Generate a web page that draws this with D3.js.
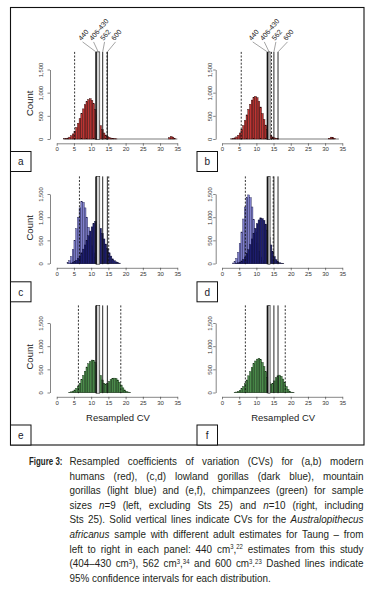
<!DOCTYPE html>
<html lang="en">
<head>
<meta charset="utf-8">
<title>Resampled CV histograms</title>
<script src="https://cdn.jsdelivr.net/npm/d3@7"></script>
<style>
    body { margin: 0; background: #fff; }
    svg text { font-family: "Liberation Sans", Arial, sans-serif; }
    .caption text { fill: #231f20; }
</style>
</head>
<body>
<script>
// ---- DATA (counts per 0.5 CV bin) ----
const binWidth = 0.5;
const cvTicks = [0, 5, 10, 15, 20, 25, 30, 35];
const countTicks = [0, 500, 1000, 1500];
const panelLetters = ["a", "b", "c", "d", "e", "f"];
const estimateLabels = ["440", "406-430", "562", "600"];

// modern humans (red)
const humans9Start = 2.0;
const humans9 = [5, 10, 20, 40, 70, 110, 170, 250, 340, 440, 550, 650, 740, 810, 850, 870, 830, 760, 640, 520, 400, 290, 200, 130, 85, 55, 35, 20, 12, 6, 3];
const humans9TailStart = 32.5;
const humans9Tail = [30, 55, 40, 10, 0];
const humans10Start = 2.5;
const humans10 = [3, 10, 25, 45, 80, 130, 200, 290, 400, 520, 640, 750, 840, 900, 920, 890, 810, 690, 550, 420, 300, 200, 130, 80, 45, 25, 12, 6];
const humans10TailStart = 31.0;
const humans10Tail = [15, 40, 35, 10, 0, 0];

// mountain gorillas (light blue) and lowland gorillas (dark blue)
const mountain9Start = 3.0;
const mountain9 = [20, 60, 150, 300, 500, 750, 1000, 1200, 1340, 1320, 1200, 1000, 780, 560, 380, 230, 130, 70, 30, 10];
const lowland9Start = 4.0;
const lowland9 = [10, 20, 40, 70, 110, 160, 230, 310, 400, 500, 600, 700, 790, 860, 910, 900, 850, 760, 650, 530, 420, 320, 230, 160, 100, 60, 35, 18, 8];
const mountain10Start = 3.0;
const mountain10 = [10, 40, 110, 240, 430, 680, 960, 1220, 1420, 1480, 1420, 1220, 950, 680, 440, 260, 140, 65, 25, 8];
const lowland10Start = 4.0;
const lowland10 = [5, 15, 30, 55, 90, 140, 210, 300, 410, 530, 650, 760, 860, 940, 985, 970, 930, 850, 720, 560, 400, 260, 150, 80, 40, 18, 8, 3];

// chimpanzees (green)
const chimp9Start = 3.5;
const chimp9 = [5, 15, 30, 55, 90, 140, 200, 280, 370, 460, 550, 620, 670, 700, 690, 650, 580, 480, 370, 270, 200, 180, 200, 240, 280, 300, 310, 300, 270, 220, 160, 100, 55, 25, 10, 3];
const chimp10Start = 3.5;
const chimp10 = [5, 10, 25, 45, 80, 130, 190, 270, 360, 450, 540, 620, 680, 720, 735, 710, 650, 560, 450, 330, 220, 180, 190, 250, 320, 360, 375, 350, 290, 210, 130, 65, 25, 8, 2];

// Australopithecus africanus CVs: 440, 562, 600 cm3 and the 404-430 band
const solidCV9 = [11.4, 13.35, 14.7];
const bandCV9 = [11.6, 12.5];
const solidCV10 = [13.2, 15.1, 16.3];
const bandCV10 = [13.4, 14.0];

// 95% confidence intervals
const ciHumans9 = [5.2, 14.6];
const ciHumans10 = [5.6, 14.4];
const ciGorilla9 = [6.6, 15.1];
const ciGorilla10 = [6.8, 14.9];
const ciChimp9 = [6.3, 18.6];
const ciChimp10 = [6.8, 18.4];

const colors = {red: "#bd3533", light: "#8080cc", dark: "#1e1e70", green: "#4c8c4c"};
const strokes = {red: "#2a0606", light: "#1c1c4a", dark: "#0b0b30", green: "#0e2a0e"};

// ---- LAYOUT ----
const cols = [
    {x0: 56.7, x1: 177.3, axisX: 50, labY: -7, boxX: 10.5},
    {x0: 222, x1: 342.3, axisX: 215.7, labY: -4, boxX: 197}
];
const rows = [
    {y0: 139, boxY: 151.5},
    {y0: 263.5, boxY: 281.8},
    {y0: 392.5, boxY: 425}
];

const panels = [
    {col: 0, row: 0, hists: [[humans9Start, humans9, "red"], [humans9TailStart, humans9Tail, "red"]], base: [humans9Start, 35], ci: ciHumans9, solid: solidCV9, band: bandCV9, labels: true},
    {col: 1, row: 0, hists: [[humans10Start, humans10, "red"], [humans10TailStart, humans10Tail, "red"]], base: [humans10Start, 34], ci: ciHumans10, solid: solidCV10, band: bandCV10, labels: true},
    {col: 0, row: 1, hists: [[mountain9Start, mountain9, "light"], [lowland9Start, lowland9, "dark"]], ci: ciGorilla9, solid: solidCV9, band: bandCV9},
    {col: 1, row: 1, hists: [[mountain10Start, mountain10, "light"], [lowland10Start, lowland10, "dark"]], ci: ciGorilla10, solid: solidCV10, band: bandCV10},
    {col: 0, row: 2, hists: [[chimp9Start, chimp9, "green"]], ci: ciChimp9, solid: solidCV9, band: bandCV9},
    {col: 1, row: 2, hists: [[chimp10Start, chimp10, "green"]], ci: ciChimp10, solid: solidCV10, band: bandCV10}
];

const svg = d3.select("body").append("svg")
    .attr("width", 373)
    .attr("height", 598);

// outer frame
svg.append("rect")
    .attr("x", 10.5).attr("y", 7.5)
    .attr("width", 353.5).attr("height", 437.5)
    .attr("fill", "none").attr("stroke", "#111").attr("stroke-width", 1.1);

panels.forEach((p, i) => {
    const c = cols[p.col], r = rows[p.row];
    const x = d3.scaleLinear().domain([0, 35]).range([c.x0, c.x1]);
    const y = d3.scaleLinear().domain([0, 1500]).range([r.y0, r.y0 - 69.5]);
    const g = svg.append("g");

    // baseline of empty bins
    const bars = p.hists.flatMap(([start, counts, col]) =>
        counts.map((v, k) => ({x: start + k * binWidth, v: v, col: col})));
    const lo = p.base ? p.base[0] : d3.min(bars, d => d.x);
    const hi = p.base ? p.base[1] : d3.max(bars, d => d.x) + binWidth;
    g.append("line")
        .attr("x1", x(lo)).attr("x2", x(hi))
        .attr("y1", y(0)).attr("y2", y(0))
        .attr("stroke", "#222").attr("stroke-width", 0.6);

    g.selectAll("rect.bar")
        .data(bars.filter(d => d.v > 0))
        .join("rect")
        .attr("class", "bar")
        .attr("x", d => x(d.x))
        .attr("width", x(binWidth) - x(0))
        .attr("y", d => y(d.v))
        .attr("height", d => y(0) - y(d.v))
        .attr("fill", d => colors[d.col])
        .attr("stroke", d => strokes[d.col])
        .attr("stroke-width", 0.4);

    // vertical lines
    const top = y(1880), bottom = y(-15);
    g.append("rect")
        .attr("x", x(p.band[0])).attr("width", x(p.band[1]) - x(p.band[0]))
        .attr("y", top).attr("height", bottom - top)
        .attr("fill", "#d2d2d2").attr("stroke", "#222").attr("stroke-width", 0.6);
    g.selectAll("line.solid")
        .data(p.solid)
        .join("line")
        .attr("class", "solid")
        .attr("x1", d => x(d)).attr("x2", d => x(d))
        .attr("y1", top).attr("y2", bottom)
        .attr("stroke", "#111")
        .attr("stroke-width", (d, k) => k === 0 ? 1.4 : 0.9);
    g.selectAll("line.ci")
        .data(p.ci)
        .join("line")
        .attr("class", "ci")
        .attr("x1", d => x(d)).attr("x2", d => x(d))
        .attr("y1", top).attr("y2", bottom)
        .attr("stroke", "#111").attr("stroke-width", 0.85)
        .attr("stroke-dasharray", "2,1.6");

    if (p.labels) {
        const lineXs = [x(p.solid[0]), x((p.band[0] + p.band[1]) / 2), x(p.solid[1]), x(p.solid[2])];
        const mid = d3.mean(lineXs) - 3.5;
        const step = p.col === 0 ? 11 : 11.6;
        estimateLabels.forEach((lab, k) => {
            const ax = mid + (k - 1.5) * step;
            g.append("line")
                .attr("x1", ax + 1.5).attr("y1", top - 10)
                .attr("x2", lineXs[k]).attr("y2", top)
                .attr("stroke", "#666").attr("stroke-width", 0.6);
            g.append("text")
                .attr("transform", `translate(${ax + 0.5},${top - 11}) rotate(-50)`)
                .attr("font-size", 7)
                .attr("fill", "#222")
                .text(lab);
        });
    }

    // axes
    const xAxis = g.append("g")
        .attr("transform", `translate(0,${r.y0 + 4.3})`)
        .call(d3.axisBottom(x).tickValues(cvTicks).tickSize(2.5).tickSizeOuter(0));
    xAxis.selectAll("text").attr("y", 8.2).attr("dy", 0)
        .attr("font-size", 6).attr("fill", "#333");

    const yAxis = g.append("g")
        .attr("transform", `translate(${c.axisX},0)`)
        .call(d3.axisLeft(y).tickValues(countTicks).tickSize(2.5).tickSizeOuter(0));
    yAxis.selectAll("text")
        .attr("x", 0).attr("y", c.labY).attr("dy", 0)
        .attr("transform", "rotate(-90)")
        .attr("text-anchor", "middle")
        .attr("font-size", 5.8).attr("fill", "#333");
    [xAxis, yAxis].forEach(a => {
        a.attr("font-family", null).attr("font-size", null);
        a.selectAll("path, line").attr("stroke", "#333").attr("stroke-width", 0.6);
    });

    if (p.col === 0) {
        g.append("text")
            .attr("transform", `translate(29.3,${y(770)}) rotate(-90)`)
            .attr("text-anchor", "middle").attr("dy", "0.35em")
            .attr("font-size", 9.5).attr("fill", "#222")
            .text("Count");
    }
    if (p.row === 2) {
        g.append("text")
            .attr("x", (c.x0 + c.x1) / 2 + 1).attr("y", r.y0 + 28)
            .attr("text-anchor", "middle")
            .attr("font-size", 9.5).attr("fill", "#222")
            .text("Resampled CV");
    }

    // letter box
    svg.append("rect")
        .attr("x", c.boxX).attr("y", r.boxY)
        .attr("width", 20.5).attr("height", 20)
        .attr("fill", "#fff").attr("stroke", "#111").attr("stroke-width", 1);
    svg.append("text")
        .attr("x", c.boxX + 10.2).attr("y", r.boxY + 13.8)
        .attr("text-anchor", "middle")
        .attr("font-size", 10).attr("fill", "#1a1a2a")
        .text(panelLetters[i]);
});

// ---- CAPTION ----
const captionLines = [
    [["Resampled coefficients of variation (CVs) for (a,b) modern", "n"]],
    [["humans (red), (c,d) lowland gorillas (dark blue), mountain", "n"]],
    [["gorillas (light blue) and (e,f), chimpanzees (green) for sample", "n"]],
    [["sizes ", "n"], ["n", "i"], ["=9 (left, excluding Sts 25) and ", "n"], ["n", "i"], ["=10 (right, including", "n"]],
    [["Sts 25). Solid vertical lines indicate CVs for the ", "n"], ["Australopithecus", "i"]],
    [["africanus", "i"], [" sample with different adult estimates for Taung \u2013 from", "n"]],
    [["left to right in each panel: 440 cm", "n"], ["3", "s"], [",", "n"], ["22", "s"], [" estimates from this study", "n"]],
    [["(404\u2013430 cm", "n"], ["3", "s"], ["), 562 cm", "n"], ["3", "s"], [",", "n"], ["34", "s"], [" and 600 cm", "n"], ["3", "s"], [".", "n"], ["23", "s"], [" Dashed lines indicate", "n"]],
    [["95% confidence intervals for each distribution.", "n"]]
];

const cap = svg.append("g").attr("class", "caption");
cap.append("text")
    .attr("transform", "translate(29,465) scale(0.72,1)")
    .attr("font-size", 11).attr("font-weight", "bold")
    .text("Figure 3:");

// narrow face emulated by a horizontal squeeze
const capX = 69.5, capW = 294, capLead = 14.6, capSx = 0.95;
captionLines.forEach((segs, li) => {
    const t = cap.append("text")
        .attr("transform", `translate(${capX},${465 + li * capLead}) scale(${capSx},1)`)
        .attr("font-size", 10.4);
    let raised = false;
    segs.forEach(([s, kind]) => {
        const ts = t.append("tspan").text(s);
        if (kind === "i") ts.attr("font-style", "italic");
        if (kind === "s" && !raised) { ts.attr("dy", -3.6); raised = true; }
        if (kind !== "s" && raised) { ts.attr("dy", 3.6); raised = false; }
        if (kind === "s") ts.attr("font-size", 6.3);
    });
    if (li < captionLines.length - 1) {
        const natural = t.node().getComputedTextLength();
        const spaces = segs.map(d => d[0]).join("").split(" ").length - 1;
        if (spaces > 0) t.attr("word-spacing", (capW / capSx - natural) / spaces);
    }
});
</script>
</body>
</html>
